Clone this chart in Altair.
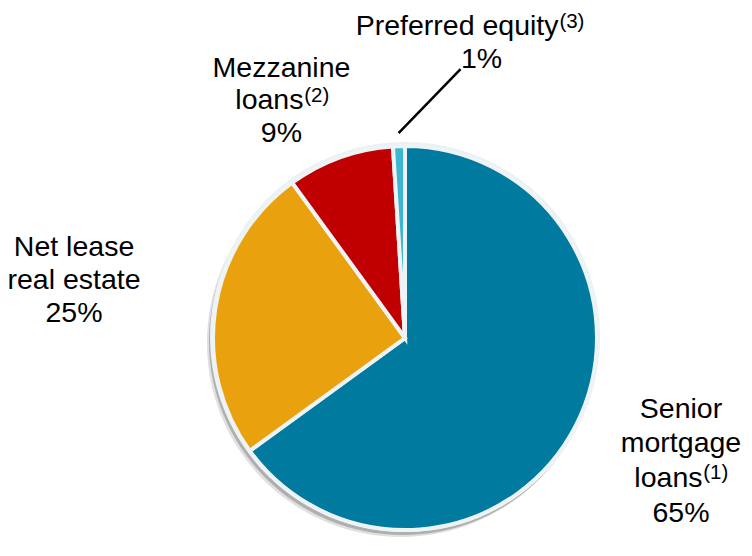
import altair as alt
import pandas as pd

# ---- data ----
categories = ["Senior mortgage loans", "Net lease real estate", "Mezzanine loans", "Preferred equity"]
values = [65, 25, 9, 1]
labels = [
    "Senior\nmortgage\nloans\n65%",
    "Net lease\nreal estate\n25%",
    "Mezzanine\nloans\n9%",
    "Preferred equity\n1%",
]
footnotes = ["(1)", "", "(2)", "(3)"]
colors = ["#007A9E", "#E9A20D", "#C00000", "#3DB6CF"]

df = pd.DataFrame({
    "category": categories,
    "value": values,
    "label": labels,
    "note": footnotes,
    "idx": list(range(len(values))),
})

W = H = 400
R = 192
FONT = "Liberation Sans"
FS = 28.5
SUP = 20.5

base = alt.Chart(df).transform_window(
    cum="sum(value)", sort=[alt.SortField("idx")]
).transform_calculate(
    mid="datum.cum - datum.value / 2"
)

theta_scale = alt.Scale(domain=[0, 100])

# drop shadow and light rim
ring = base.transform_filter("datum.idx == 0")
shadow1 = ring.mark_arc(
    radius=R + 2, theta=0, theta2=6.2832, color="#000000", opacity=0.22
).encode(x=alt.value(W / 2 - 2), y=alt.value(H / 2 + 3))
shadow2 = ring.mark_arc(
    radius=R + 2, theta=0, theta2=6.2832, color="#000000", opacity=0.12
).encode(x=alt.value(W / 2 - 4), y=alt.value(H / 2 + 5))
outer = ring.mark_arc(
    radius=R + 3, theta=0, theta2=6.2832, color="#EAF1F5"
).encode(x=alt.value(W / 2), y=alt.value(H / 2 - 1))

pie = base.mark_arc(radius=R, stroke="#EEF3F6", strokeWidth=4).encode(
    theta=alt.Theta("value:Q", stack=True, scale=theta_scale),
    color=alt.Color("category:N", scale=alt.Scale(domain=categories, range=colors), legend=None),
    order=alt.Order("idx:Q"),
)


def line_layer(i, k, r, dx, dy, align="center", lh=34):
    """Line k of label i (k=None -> whole multi-line label)."""
    b = base.transform_filter(f"datum.idx == {i}")
    if k is None:
        b = b.transform_calculate(t="datum.label")
    else:
        b = b.transform_calculate(t=f"split(datum.label, '\\n')[{k}]")
    return b.mark_text(
        radius=r, dx=dx, dy=dy, font=FONT, fontSize=FS, lineHeight=lh,
        lineBreak="\n", align=align, baseline="middle", color="#000000",
    ).encode(
        theta=alt.Theta("mid:Q", stack=None, scale=theta_scale),
        text="t:N",
    )


def note_layer(i, r, dx, dy):
    return base.transform_filter(f"datum.idx == {i}").mark_text(
        radius=r, dx=dx, dy=dy, font=FONT, fontSize=SUP,
        align="left", baseline="alphabetic", color="#000000",
    ).encode(
        theta=alt.Theta("mid:Q", stack=None, scale=theta_scale),
        text="note:N",
    )


layers = [
    # Senior mortgage loans(1) 65%
    line_layer(0, 0, 302, 6.9, -66.6),
    line_layer(0, 1, 302, 6.9, -31.9),
    line_layer(0, 2, 302, 28.4, 2.8, align="right"),
    note_layer(0, 302, 29.1, 4.0),
    line_layer(0, 3, 302, 6.9, 37.5),
    # Net lease real estate 25%
    line_layer(1, None, 336, 0.9, -38.4, lh=33),
    # Mezzanine loans(2) 9%
    line_layer(2, 0, 265.5, -33.6, -20.2),
    line_layer(2, 1, 265.5, -11.6, 12.3, align="right"),
    note_layer(2, 265.5, -10.9, 13.5),
    line_layer(2, 2, 265.5, -33.6, 44.8),
    # Preferred equity(3) 1%
    line_layer(3, 0, 293, 162.7, -19.6, align="right"),
    note_layer(3, 293, 163.6, -17.4),
    line_layer(3, 1, 293, 85.7, 13.4),
]

leader = base.transform_filter("datum.idx == 3").transform_calculate(
    ang="2 * PI * datum.mid / 100",
    lx=f"{W / 2} + 205 * sin(datum.ang)",
    ly=f"{H / 2} - 205 * cos(datum.ang)",
    lx2="datum.lx + 62",
    ly2="datum.ly - 64",
).mark_rule(color="#000000", strokeWidth=2.5).encode(
    x=alt.X("lx:Q", scale=None), y=alt.Y("ly:Q", scale=None),
    x2="lx2:Q", y2="ly2:Q",
)

chart = alt.layer(shadow2, shadow1, outer, pie, leader, *layers).properties(
    width=W, height=H,
    autosize=alt.AutoSizeParams(type="none"),
    padding={"left": 197, "top": 130, "right": 139, "bottom": 10},
).configure_view(stroke=None)

chart.save("out.html", embed_options={"renderer": "svg", "actions": False})
